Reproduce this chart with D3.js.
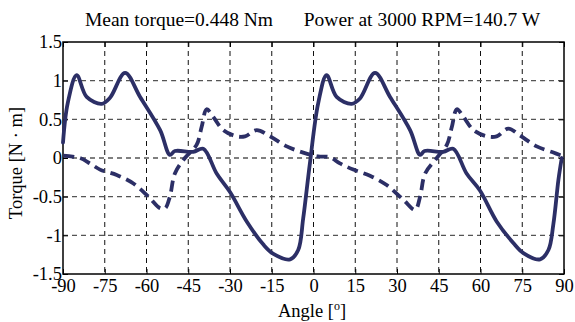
<!DOCTYPE html>
<html><head><meta charset="utf-8">
<script src="https://cdn.jsdelivr.net/npm/d3@7"></script>
<style>body{margin:0;background:#fff}</style>
</head><body><div id="container"></div>
<script>
var xTicks = [-90,-75,-60,-45,-30,-15,0,15,30,45,60,75,90];
var yTicks = [-1.5,-1,-0.5,0,0.5,1,1.5];

// solid: torque
var solidAngle = [-90,-88.3,-85.1,-81.5,-76.1,-73.1,-67.7,-62.3,-55.1,-51.6,-49.8,-43.2,-39.6,-34.8,-30.0,-24.0,-18.0,-14.4,-8.4,-5.5,-3.7,-1.3,
                  1.7,4.7,8.3,13.7,16.7,22.1,27.5,34.7,38.3,39.9,46.6,50.2,55.0,59.8,65.8,71.8,75.4,81.4,84.4,86.2,88.0,89.2];
var solidTorque = [0.2,0.71,1.07,0.79,0.70,0.78,1.1,0.79,0.36,0.04,0.09,0.08,0.12,-0.2,-0.44,-0.82,-1.12,-1.24,-1.31,-1.19,-0.78,-0.07,
                   0.71,1.07,0.79,0.70,0.77,1.1,0.79,0.36,0.04,0.09,0.08,0.12,-0.2,-0.42,-0.82,-1.1,-1.23,-1.31,-1.19,-0.85,-0.28,0.0];
// dashed
var dashAngle = [-89.9,-83.9,-80.3,-76.7,-70.7,-64.7,-59.3,-55.1,-53.3,-51.6,-49.8,-46.2,-42.0,-40.2,-38.4,-36.0,-32.4,-27.6,-24.6,-20.4,-15.6,-9.6,-3.7,
                 1.7,5.9,9.5,14.3,20.3,26.3,32.3,36.5,38.3,40.1,44.3,47.9,49.7,51.5,53.9,57.5,62.3,65.8,70.0,74.2,80.2,86.2,89.2];
var dashTorque = [0.03,0.0,-0.07,-0.15,-0.22,-0.33,-0.5,-0.65,-0.65,-0.5,-0.2,0.0,0.17,0.4,0.63,0.53,0.36,0.28,0.28,0.36,0.28,0.15,0.07,
                  0.02,0.01,-0.07,-0.15,-0.23,-0.35,-0.54,-0.67,-0.5,-0.2,0.0,0.17,0.4,0.63,0.53,0.36,0.28,0.28,0.38,0.29,0.15,0.07,0.03];

var titleLeft = "Mean torque=0.448 Nm";
var titleRight = "Power at 3000 RPM=140.7 W";

var W = 575, H = 322;
var pL = 63, pT = 42, pR = 564, pB = 274;
var font = "'Liberation Serif', 'Times New Roman', serif";
var ink = "#2c2f66";

var svg = d3.select("#container").append("svg")
			.attr("width",W)
			.attr("height",H)
			.style("font-family",font);

var x = d3.scaleLinear().domain([-90,90]).range([pL,pR]);
var y = d3.scaleLinear().domain([-1.5,1.5]).range([pB,pT]);

// grid
svg.selectAll("line.vgrid").data(xTicks.slice(1,-1)).enter().append("line")
	.attr("x1",function(d){return x(d);}).attr("x2",function(d){return x(d);})
	.attr("y1",pT).attr("y2",pB)
	.attr("stroke","#111").attr("stroke-width",1)
	.attr("stroke-dasharray","5,4");
svg.selectAll("line.hgrid").data(yTicks.slice(1,-1)).enter().append("line")
	.attr("y1",function(d){return y(d);}).attr("y2",function(d){return y(d);})
	.attr("x1",pL).attr("x2",pR)
	.attr("stroke","#555").attr("stroke-width",1.3)
	.attr("stroke-dasharray","5,4");

// axes with inward ticks
var fmt = function(d){return String(d);};
var gx = svg.append("g").attr("transform","translate(0,"+pB+")")
	.call(d3.axisBottom(x).tickValues(xTicks).tickSizeInner(-5).tickSizeOuter(0).tickPadding(18).tickFormat(fmt));
var gy = svg.append("g").attr("transform","translate("+pL+",0)")
	.call(d3.axisLeft(y).tickValues(yTicks).tickSizeInner(-5).tickSizeOuter(0).tickPadding(1).tickFormat(fmt));
svg.append("g").attr("transform","translate(0,"+pT+")")
	.call(d3.axisTop(x).tickValues(xTicks).tickSizeInner(-5).tickSizeOuter(0).tickFormat(""));
svg.append("g").attr("transform","translate("+pR+",0)")
	.call(d3.axisRight(y).tickValues(yTicks).tickSizeInner(-5).tickSizeOuter(0).tickFormat(""));
svg.selectAll(".domain").remove();
svg.selectAll(".tick line").attr("stroke","#000");
svg.selectAll(".tick text").attr("font-family",font).attr("font-size",18.5).attr("fill","#000");
gx.selectAll(".tick text").attr("dy","0");
gy.selectAll(".tick text").attr("dy","0.32em");

// box
svg.append("rect").attr("x",pL).attr("y",pT)
	.attr("width",pR-pL).attr("height",pB-pT)
	.attr("fill","none").attr("stroke","#000").attr("stroke-width",1.5);

// curves
var line = d3.line().curve(d3.curveCatmullRom.alpha(0.5));
svg.append("path")
	.attr("d",line(solidAngle.map(function(a,i){return [x(a),y(solidTorque[i])];})))
	.attr("fill","none").attr("stroke",ink).attr("stroke-width",3.8)
	.attr("stroke-linejoin","round").attr("stroke-linecap","round");
svg.append("path")
	.attr("d",line(dashAngle.map(function(a,i){return [x(a),y(dashTorque[i])];})))
	.attr("fill","none").attr("stroke",ink).attr("stroke-width",3.8)
	.attr("stroke-dasharray","11,6");

// titles
svg.append("text").attr("x",179).attr("y",26).attr("text-anchor","middle")
	.attr("font-size",19.5).text(titleLeft);
svg.append("text").attr("x",422).attr("y",26).attr("text-anchor","middle")
	.attr("font-size",19.5).text(titleRight);

// axis labels
var xl = svg.append("text").attr("x",312).attr("y",317).attr("text-anchor","middle").attr("font-size",18.5);
xl.append("tspan").text("Angle [");
xl.append("tspan").attr("font-size",12).attr("dy",-7).text("o");
xl.append("tspan").attr("dy",7).text("]");

svg.append("text").attr("transform","translate(22,163) rotate(-90)")
	.attr("text-anchor","middle").attr("font-size",18.5).text("Torque [N \u00b7 m]");
</script>
</body></html>
